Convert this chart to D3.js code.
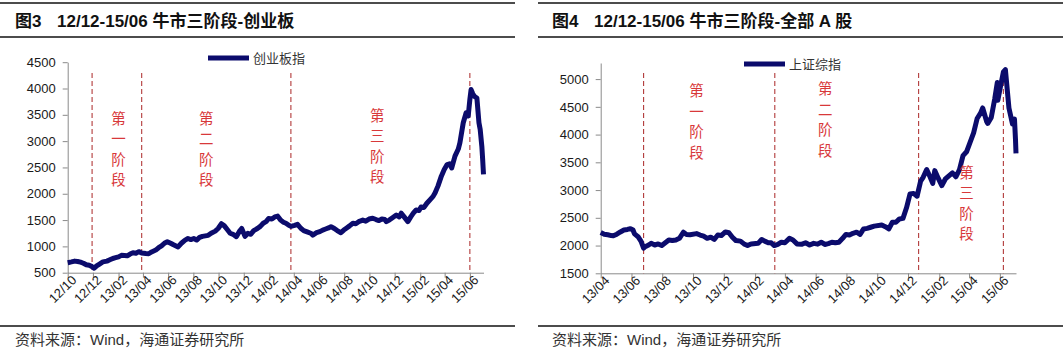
<!DOCTYPE html>
<html>
<head>
<meta charset="utf-8">
<script src="https://cdn.jsdelivr.net/npm/d3@7"></script>
<style>
  body { margin: 0; background: #fff; }
  svg { display: block; font-family: "Liberation Sans", Arial, "Noto Sans CJK SC", sans-serif; }
</style>
</head>
<body>
<div id="chart"></div>
<script>
// page size
const width = 1063, height = 354;

// ---- data ----
// 创业板指 (2012/10 - 2015/07)
const chinextData = [
  ["2012-10-01",690],["2012-10-10",705],["2012-10-18",720],["2012-10-25",712],["2012-11-01",700],
  ["2012-11-08",680],["2012-11-15",650],["2012-11-22",640],["2012-11-29",615],["2012-12-04",585],
  ["2012-12-10",630],["2012-12-17",665],["2012-12-25",705],["2013-01-04",720],["2013-01-11",745],
  ["2013-01-18",770],["2013-01-25",785],["2013-02-01",800],["2013-02-08",830],["2013-02-22",820],
  ["2013-03-01",855],["2013-03-08",880],["2013-03-15",870],["2013-03-22",900],["2013-03-29",875],
  ["2013-04-08",865],["2013-04-15",860],["2013-04-22",895],["2013-05-02",930],["2013-05-09",975],
  ["2013-05-16",1010],["2013-05-23",1060],["2013-05-30",1090],["2013-06-07",1060],["2013-06-14",1030],
  ["2013-06-25",990],["2013-07-03",1060],["2013-07-12",1120],["2013-07-19",1150],["2013-07-26",1130],
  ["2013-08-02",1150],["2013-08-09",1120],["2013-08-16",1170],["2013-08-23",1190],["2013-08-30",1200],
  ["2013-09-06",1210],["2013-09-13",1250],["2013-09-23",1290],["2013-09-30",1340],["2013-10-08",1430],
  ["2013-10-15",1390],["2013-10-22",1320],["2013-10-29",1250],["2013-11-05",1230],["2013-11-13",1185],
  ["2013-11-20",1280],["2013-11-26",1340],["2013-12-04",1190],["2013-12-11",1250],["2013-12-18",1230],
  ["2013-12-25",1300],["2014-01-03",1340],["2014-01-10",1380],["2014-01-17",1440],["2014-01-24",1470],
  ["2014-01-30",1530],["2014-02-07",1520],["2014-02-14",1560],["2014-02-21",1575],["2014-02-28",1500],
  ["2014-03-07",1460],["2014-03-13",1440],["2014-03-20",1400],["2014-03-25",1380],["2014-04-03",1400],
  ["2014-04-10",1420],["2014-04-18",1345],["2014-04-25",1300],["2014-05-05",1270],["2014-05-12",1250],
  ["2014-05-17",1215],["2014-05-26",1260],["2014-06-03",1280],["2014-06-10",1310],["2014-06-17",1330],
  ["2014-06-24",1350],["2014-06-30",1375],["2014-07-08",1340],["2014-07-15",1300],["2014-07-24",1260],
  ["2014-07-31",1310],["2014-08-07",1350],["2014-08-14",1390],["2014-08-22",1440],["2014-08-29",1430],
  ["2014-09-05",1470],["2014-09-15",1500],["2014-09-22",1480],["2014-09-30",1520],["2014-10-09",1535],
  ["2014-10-17",1510],["2014-10-24",1490],["2014-10-31",1520],["2014-11-07",1510],["2014-11-11",1470],
  ["2014-11-18",1500],["2014-11-25",1540],["2014-12-05",1595],["2014-12-12",1560],["2014-12-17",1630],
  ["2014-12-24",1560],["2015-01-02",1470],["2015-01-09",1560],["2015-01-16",1640],["2015-01-22",1690],
  ["2015-01-29",1680],["2015-02-03",1750],["2015-02-10",1740],["2015-02-17",1820],["2015-02-25",1890],
  ["2015-03-04",1950],["2015-03-09",2020],["2015-03-16",2150],["2015-03-24",2335],["2015-03-31",2460],
  ["2015-04-07",2555],["2015-04-13",2570],["2015-04-18",2490],["2015-04-26",2715],["2015-05-04",2850],
  ["2015-05-08",2970],["2015-05-16",3350],["2015-05-23",3540],["2015-05-28",3480],["2015-06-01",3790],
  ["2015-06-04",3980],["2015-06-08",3900],["2015-06-12",3850],["2015-06-18",3820],["2015-06-23",3350],
  ["2015-06-26",3220],["2015-06-30",2900],["2015-07-02",2650],["2015-07-04",2370]
];

// 上证综指 (2013/04 - 2015/07)
const sseData = [
  ["2013-04-01",2235],["2013-04-08",2205],["2013-04-15",2195],["2013-04-22",2180],["2013-04-26",2175],
  ["2013-05-03",2205],["2013-05-10",2245],["2013-05-17",2280],["2013-05-24",2290],["2013-05-30",2305],
  ["2013-06-04",2280],["2013-06-07",2210],["2013-06-14",2160],["2013-06-20",2075],["2013-06-25",1955],
  ["2013-06-28",1980],["2013-07-05",2010],["2013-07-10",2040],["2013-07-17",2010],["2013-07-24",2030],
  ["2013-07-31",2000],["2013-08-07",2050],["2013-08-14",2100],["2013-08-21",2090],["2013-08-28",2100],
  ["2013-09-04",2130],["2013-09-12",2240],["2013-09-18",2200],["2013-09-25",2195],["2013-10-08",2215],
  ["2013-10-15",2190],["2013-10-22",2170],["2013-10-29",2130],["2013-11-05",2150],["2013-11-12",2110],
  ["2013-11-19",2190],["2013-11-26",2180],["2013-12-04",2245],["2013-12-11",2230],["2013-12-18",2150],
  ["2013-12-25",2090],["2014-01-03",2080],["2014-01-10",2030],["2014-01-17",2000],["2014-01-24",2030],
  ["2014-02-07",2040],["2014-02-14",2110],["2014-02-20",2080],["2014-02-27",2050],["2014-03-05",2050],
  ["2014-03-11",2000],["2014-03-18",2020],["2014-03-25",2060],["2014-04-01",2050],["2014-04-10",2130],
  ["2014-04-17",2100],["2014-04-25",2030],["2014-05-05",2025],["2014-05-12",2050],["2014-05-20",2010],
  ["2014-05-28",2040],["2014-06-05",2025],["2014-06-12",2060],["2014-06-19",2020],["2014-06-26",2035],
  ["2014-07-03",2060],["2014-07-10",2050],["2014-07-17",2060],["2014-07-24",2125],["2014-07-31",2200],
  ["2014-08-07",2190],["2014-08-14",2220],["2014-08-21",2240],["2014-08-28",2200],["2014-09-04",2300],
  ["2014-09-11",2310],["2014-09-18",2330],["2014-09-25",2350],["2014-10-10",2370],["2014-10-17",2340],
  ["2014-10-24",2300],["2014-10-31",2420],["2014-11-07",2420],["2014-11-14",2480],["2014-11-21",2490],
  ["2014-11-28",2680],["2014-12-05",2930],["2014-12-12",2940],["2014-12-19",2890],["2014-12-26",3160],
  ["2014-12-31",3230],["2015-01-07",3370],["2015-01-14",3230],["2015-01-19",3120],["2015-01-23",3350],
  ["2015-01-30",3210],["2015-02-06",3080],["2015-02-13",3200],["2015-02-27",3310],["2015-03-06",3240],
  ["2015-03-13",3370],["2015-03-20",3620],["2015-03-27",3690],["2015-04-03",3860],["2015-04-10",4030],
  ["2015-04-17",4290],["2015-04-24",4390],["2015-04-28",4480],["2015-05-06",4230],["2015-05-08",4200],
  ["2015-05-15",4310],["2015-05-22",4650],["2015-05-27",4940],["2015-05-28",4620],["2015-06-03",4900],
  ["2015-06-08",5130],["2015-06-12",5170],["2015-06-19",4480],["2015-06-26",4190],["2015-06-30",4280],
  ["2015-07-02",3910],["2015-07-03",3660]
];

// phase boundaries (dashed lines)
const chinextPhases = ["2012-11-29", "2013-03-29", "2014-03-25", "2015-06-01"];
const ssePhases = ["2013-06-25", "2014-03-12", "2014-12-22", "2015-06-08"];

// y tick labels
const chinextTicks = [500, 1000, 1500, 2000, 2500, 3000, 3500, 4000, 4500];
const sseTicks = [1500, 2000, 2500, 3000, 3500, 4000, 4500, 5000];

// phase labels: [text, date, value at top character]
const chinextLabels = [["第一阶段", "2013-02-01", 3330], ["第二阶段", "2013-09-01", 3330], ["第三阶段", "2014-10-20", 3390]];
const sseLabels = [["第一阶段", "2013-10-08", 4690], ["第二阶段", "2014-06-20", 4730], ["第三阶段", "2015-03-27", 3220]];

const parse = d3.timeParse("%Y-%m-%d");
const navy = "#0b0b6c", red = "#d8383a", axisColor = "#8a8a8a";

const svg = d3.select("#chart")
  .append("svg")
  .attr("width", width)
  .attr("height", height)
  .attr("viewBox", [0, 0, width, height]);

// draws one panel (title, axes, line, phases, footer)
function drawPanel(p) {
  const g = svg.append("g");

  // rules around the title and above the source note
  [3, 37, 326].forEach(y => {
    g.append("line")
      .attr("x1", p.ruleX[0]).attr("x2", p.ruleX[1])
      .attr("y1", y).attr("y2", y)
      .attr("stroke", "#111").attr("stroke-width", 1.3);
  });

  g.append("text")
    .attr("x", p.titleX).attr("y", 27)
    .attr("font-size", 17).attr("font-weight", "bold").attr("fill", "#111")
    .text(p.figNo);
  g.append("text")
    .attr("x", p.titleX + 42).attr("y", 27)
    .attr("font-size", 17).attr("font-weight", "bold").attr("fill", "#111")
    .text(p.title);

  const data = p.data.map(d => ({ date: parse(d[0]), value: d[1] }));
  const start = parse(p.xStart), end = data[data.length - 1].date;

  const x = d3.scaleTime()
    .domain([start, end])
    .range(p.xRange);
  const y = d3.scaleLinear()
    .domain(p.yDomain)
    .range(p.yRange);

  const x0 = p.xRange[0], yBase = p.yRange[0];

  // y axis
  const yAxis = g.append("g")
    .attr("transform", `translate(${x0},0)`)
    .call(d3.axisLeft(y).tickValues(p.yTicks).tickFormat(d3.format("d"))
      .tickSize(5).tickSizeOuter(0).tickPadding(7));
  // x axis, a tick every two months counted from the first month
  const xAxis = g.append("g")
    .attr("transform", `translate(0,${yBase})`)
    .call(d3.axisBottom(x).tickValues(d3.timeMonth.range(start, end, 2))
      .tickFormat(d3.timeFormat("%y/%m")).tickSize(5).tickSizeOuter(0));

  [yAxis, xAxis].forEach(a => {
    a.select(".domain").attr("stroke", axisColor);
    a.selectAll(".tick line").attr("stroke", axisColor);
    a.selectAll("text").attr("font-size", 13).attr("fill", "#1a1a1a")
      .attr("font-family", "'Liberation Sans', Arial, sans-serif");
  });
  xAxis.selectAll(".tick text")
    .attr("text-anchor", "end")
    .attr("transform", "translate(4,3) rotate(-45)")
    .attr("dy", "0.55em")
    .attr("y", 0).attr("x", 0);

  // dashed phase boundaries
  g.append("g")
    .selectAll("line")
    .data(p.phases)
    .join("line")
    .attr("x1", d => x(parse(d))).attr("x2", d => x(parse(d)))
    .attr("y1", p.dashTop).attr("y2", yBase)
    .attr("stroke", "#b23a3a").attr("stroke-width", 1.1)
    .attr("stroke-dasharray", "5,3");

  // the index line
  g.append("path")
    .datum(data)
    .attr("fill", "none")
    .attr("stroke", navy)
    .attr("stroke-width", 5)
    .attr("stroke-linejoin", "round")
    .attr("d", d3.line().x(d => x(d.date)).y(d => y(d.value)));

  // vertical red phase labels
  p.labels.forEach(([txt, date, val]) => {
    const t = g.append("text")
      .attr("font-family", "'Noto Sans CJK SC', sans-serif")
      .attr("font-size", 14.5).attr("fill", red)
      .attr("text-anchor", "middle");
    txt.split("").forEach((ch, i) => {
      t.append("tspan")
        .attr("x", x(parse(date)))
        .attr("y", y(val) + i * 20.5)
        .text(ch);
    });
  });

  // legend
  g.append("line")
    .attr("x1", p.legendX).attr("x2", p.legendX + 41)
    .attr("y1", p.legendY).attr("y2", p.legendY)
    .attr("stroke", navy).attr("stroke-width", 5);
  g.append("text")
    .attr("x", p.legendX + 45).attr("y", p.legendY + 4.5)
    .attr("font-size", 13).attr("fill", "#333")
    .attr("font-family", "'Noto Sans CJK SC', sans-serif")
    .text(p.legend);

  // source note
  g.append("text")
    .attr("x", p.titleX).attr("y", 345)
    .attr("font-size", 15).attr("fill", "#333")
    .text("资料来源：Wind，海通证券研究所");
}

drawPanel({
  figNo: "图3", title: "12/12-15/06 牛市三阶段-创业板",
  ruleX: [0, 515], titleX: 15,
  data: chinextData, xStart: "2012-10-01", xRange: [67.7, 483.5],
  yDomain: [500, 4500], yRange: [272.7, 62.2], yTicks: chinextTicks,
  phases: chinextPhases, dashTop: 73, labels: chinextLabels,
  legend: "创业板指", legendX: 208, legendY: 58
});

drawPanel({
  figNo: "图4", title: "12/12-15/06 牛市三阶段-全部 A 股",
  ruleX: [538, 1063], titleX: 552,
  data: sseData, xStart: "2013-04-01", xRange: [600.7, 1016],
  yDomain: [1500, 5290], yRange: [273.3, 63], yTicks: sseTicks,
  phases: ssePhases, dashTop: 73, labels: sseLabels,
  legend: "上证综指", legendX: 744, legendY: 64
});
</script>
</body>
</html>
